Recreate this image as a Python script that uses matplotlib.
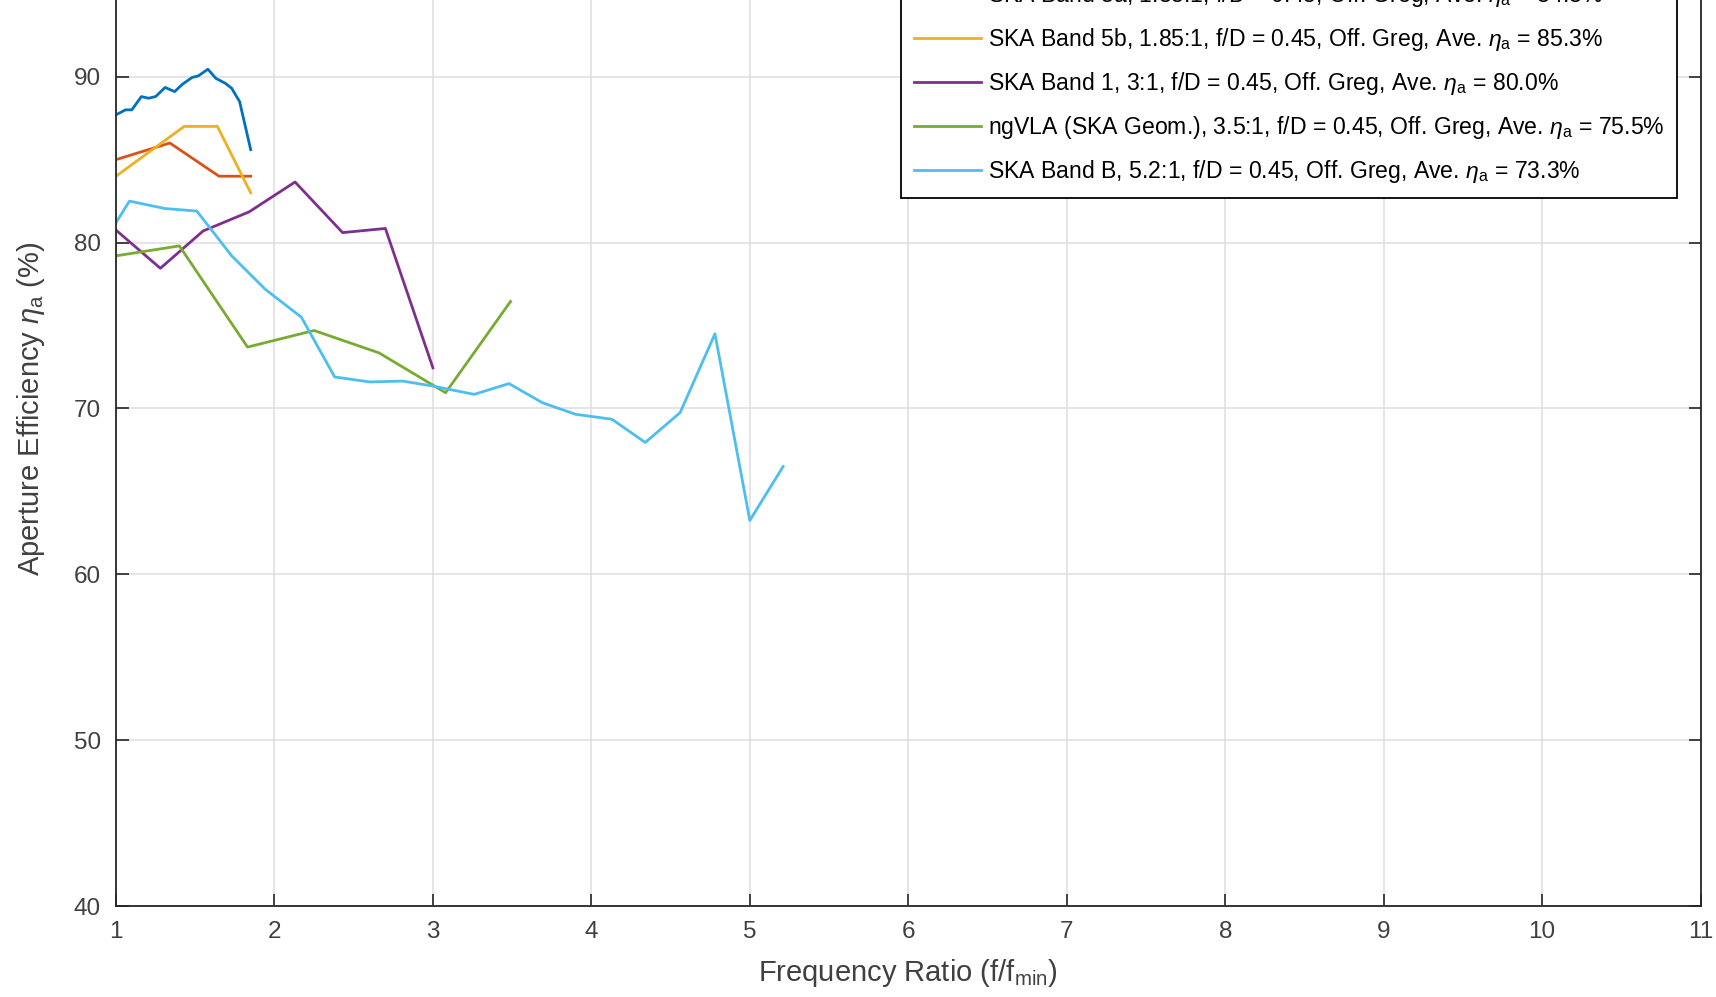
import matplotlib
matplotlib.use("Agg")
import matplotlib.pyplot as plt

plt.rcParams["font.family"] = ["Liberation Sans", "DejaVu Sans"]
plt.rcParams["mathtext.fontset"] = "custom"
plt.rcParams["mathtext.rm"] = "Liberation Sans"
plt.rcParams["mathtext.it"] = "Liberation Sans:italic"

# Aperture efficiency vs. frequency ratio for each feed/band design
band2_x = [1.0, 1.06, 1.10, 1.16, 1.205, 1.25, 1.31, 1.37, 1.42, 1.48, 1.52, 1.58, 1.63, 1.69, 1.73, 1.78, 1.85]
band2_y = [87.7, 88.0, 88.0, 88.8, 88.7, 88.8, 89.35, 89.1, 89.55, 89.95, 90.05, 90.45, 89.9, 89.6, 89.3, 88.5, 85.6]

band5a_x = [1.0, 1.34, 1.65, 1.85]
band5a_y = [85.0, 86.0, 84.0, 84.0]

band5b_x = [1.0, 1.43, 1.64, 1.85]
band5b_y = [84.0, 87.0, 87.0, 83.0]

band1_x = [1.0, 1.28, 1.55, 1.84, 2.13, 2.43, 2.70, 3.0]
band1_y = [80.75, 78.45, 80.7, 81.85, 83.65, 80.6, 80.85, 72.45]

ngvla_x = [1.0, 1.40, 1.83, 2.25, 2.66, 3.08, 3.49]
ngvla_y = [79.2, 79.8, 73.7, 74.7, 73.35, 70.95, 76.45]

bandb_x = [1.0, 1.085, 1.31, 1.51, 1.73, 1.94, 2.17, 2.38, 2.60, 2.81, 3.0,
           3.26, 3.48, 3.69, 3.90, 4.13, 4.34, 4.56, 4.78, 5.0, 5.21]
bandb_y = [81.2, 82.5, 82.05, 81.9, 79.2, 77.2, 75.5, 71.9, 71.6, 71.65, 71.35,
           70.85, 71.5, 70.35, 69.65, 69.35, 67.95, 69.75, 74.5, 63.25, 66.5]

labels = [
    r"SKA Band 2, 1.85:1, f/D = 0.45, Off. Greg, Ave. $\eta_\mathrm{a}$ = 89.2%",
    r"SKA Band 5a, 1.85:1, f/D = 0.45, Off. Greg, Ave. $\eta_\mathrm{a}$ = 84.8%",
    r"SKA Band 5b, 1.85:1, f/D = 0.45, Off. Greg, Ave. $\eta_\mathrm{a}$ = 85.3%",
    r"SKA Band 1, 3:1, f/D = 0.45, Off. Greg, Ave. $\eta_\mathrm{a}$ = 80.0%",
    r"ngVLA (SKA Geom.), 3.5:1, f/D = 0.45, Off. Greg, Ave. $\eta_\mathrm{a}$ = 75.5%",
    r"SKA Band B, 5.2:1, f/D = 0.45, Off. Greg, Ave. $\eta_\mathrm{a}$ = 73.3%",
]
colors = ["#0072BD", "#D95319", "#EDB120", "#7E2F8E", "#77AC30", "#4DBEEE"]
series = [
    (band2_x, band2_y), (band5a_x, band5a_y), (band5b_x, band5b_y),
    (band1_x, band1_y), (ngvla_x, ngvla_y), (bandb_x, bandb_y),
]

x_ticks = list(range(1, 12))
y_ticks = [40, 50, 60, 70, 80, 90, 100]

fig = plt.figure(figsize=(17.16, 9.97), dpi=100)
ax = fig.add_axes([0.0676, 0.0911, 0.9234, 0.9984])

for (xs, ys), c, lab in zip(series, colors, labels):
    ax.plot(xs, ys, color=c, lw=2.0, label=lab)

ax.set_xlim(1, 11)
ax.set_ylim(40, 100)
ax.set_xticks(x_ticks)
ax.set_yticks(y_ticks)
ax.grid(True, color="#dedede", lw=1.1)
ax.set_axisbelow(True)

axis_gray = "#262626"
for side in ax.spines.values():
    side.set_color(axis_gray)
    side.set_linewidth(1.3)
ax.tick_params(direction="in", length=9, width=1.2, colors=axis_gray,
               labelcolor="#404040", labelsize=17.5, top=True, right=True, pad=11)

ax.set_xlabel(r"Frequency Ratio (f/f$_\mathrm{min}$)", fontsize=21, color="#404040", labelpad=10)
ax.set_ylabel(r"Aperture Efficiency $\eta_\mathrm{a}$ (%)", fontsize=21, color="#404040", labelpad=9)

leg = ax.legend(loc="lower right", bbox_to_anchor=(0.985, 0.7115), fontsize=16.6,
                frameon=True, fancybox=False, framealpha=1, edgecolor="black",
                handlelength=2.9, handletextpad=0.3, labelspacing=0.74,
                borderaxespad=0, borderpad=0.55)
leg.get_frame().set_linewidth(1.3)

fig.savefig("out.png", dpi=100, facecolor="white")
